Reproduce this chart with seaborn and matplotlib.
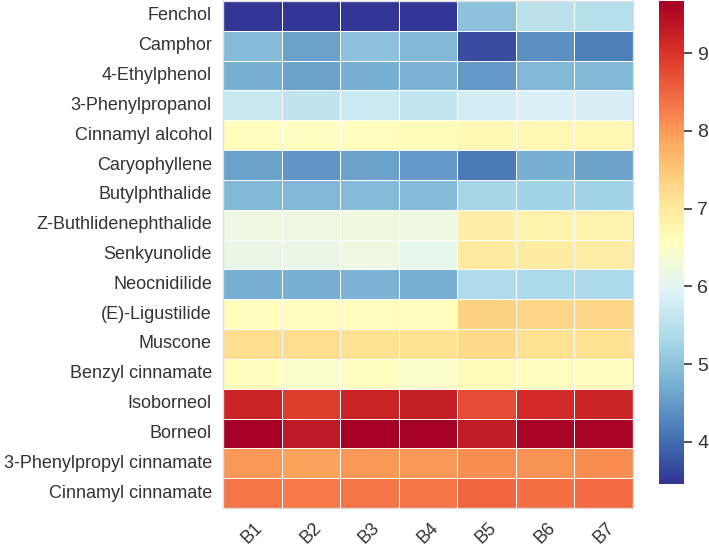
import numpy as np
import pandas as pd
import matplotlib
matplotlib.use("Agg")
import matplotlib.pyplot as plt
import seaborn as sns

compounds = ["Fenchol", "Camphor", "4-Ethylphenol", "3-Phenylpropanol",
             "Cinnamyl alcohol", "Caryophyllene", "Butylphthalide",
             "Z-Buthlidenephthalide", "Senkyunolide", "Neocnidilide",
             "(E)-Ligustilide", "Muscone", "Benzyl cinnamate", "Isoborneol",
             "Borneol", "3-Phenylpropyl cinnamate", "Cinnamyl cinnamate"]
samples = ["B1", "B2", "B3", "B4", "B5", "B6", "B7"]

fenchol = [3.46, 3.47, 3.46, 3.48, 5.00, 5.50, 5.45]
camphor = [4.90, 4.60, 5.00, 4.85, 3.70, 4.40, 4.20]
ethylphenol = [4.75, 4.60, 4.75, 4.80, 4.50, 4.85, 4.85]
phenylpropanol = [5.65, 5.55, 5.70, 5.60, 5.80, 5.90, 5.85]
cinnamyl_alcohol = [6.60, 6.55, 6.60, 6.62, 6.70, 6.72, 6.72]
caryophyllene = [4.60, 4.45, 4.60, 4.50, 4.15, 4.75, 4.60]
butylphthalide = [4.85, 4.85, 4.90, 4.90, 5.30, 5.25, 5.25]
z_butylidenephthalide = [6.20, 6.20, 6.22, 6.20, 6.90, 6.82, 6.82]
senkyunolide = [6.15, 6.15, 6.20, 6.10, 6.98, 6.95, 6.92]
neocnidilide = [4.75, 4.75, 4.80, 4.75, 5.40, 5.35, 5.35]
ligustilide = [6.60, 6.60, 6.60, 6.60, 7.35, 7.30, 7.30]
muscone = [7.20, 7.20, 7.15, 7.15, 7.25, 7.15, 7.15]
benzyl_cinnamate = [6.60, 6.45, 6.55, 6.45, 6.62, 6.60, 6.60]
isoborneol = [9.20, 8.90, 9.20, 9.25, 8.75, 9.10, 9.20]
borneol = [9.65, 9.35, 9.67, 9.67, 9.30, 9.60, 9.60]
phenylpropyl_cinnamate = [8.00, 7.90, 8.00, 8.00, 8.10, 8.05, 8.10]
cinnamyl_cinnamate = [8.35, 8.30, 8.35, 8.35, 8.50, 8.40, 8.45]

data = pd.DataFrame([fenchol, camphor, ethylphenol, phenylpropanol,
                     cinnamyl_alcohol, caryophyllene, butylphthalide,
                     z_butylidenephthalide, senkyunolide, neocnidilide,
                     ligustilide, muscone, benzyl_cinnamate, isoborneol,
                     borneol, phenylpropyl_cinnamate, cinnamyl_cinnamate],
                    index=compounds, columns=samples)

sns.set_theme(style="white")
plt.rcParams["font.family"] = ["Liberation Sans", "DejaVu Sans"]

fig = plt.figure(figsize=(7.09, 5.48), dpi=100)
ax = fig.add_axes([223 / 709, 1 - 508 / 548, 410 / 709, 507 / 548])
cax = fig.add_axes([659 / 709, 1 - 484 / 548, 25 / 709, 483 / 548])

sns.heatmap(data, cmap="RdYlBu_r", linewidths=0.6, linecolor="white",
            ax=ax, cbar_ax=cax)

ax.tick_params(length=0, labelsize=13, colors="#333333")
ax.tick_params(axis="x", pad=8)
ax.tick_params(axis="y", pad=8)
plt.setp(ax.get_xticklabels(), rotation=45)
ax.set_yticklabels(compounds, rotation=0)
for s in ax.spines.values():
    s.set_visible(True)
    s.set_color("#dddddd")
    s.set_linewidth(1)

cax.tick_params(right=True, length=6, width=1.2, labelsize=14, colors="#333333")
cax.set_yticks([4, 5, 6, 7, 8, 9])

fig.savefig("out.png", dpi=100)
